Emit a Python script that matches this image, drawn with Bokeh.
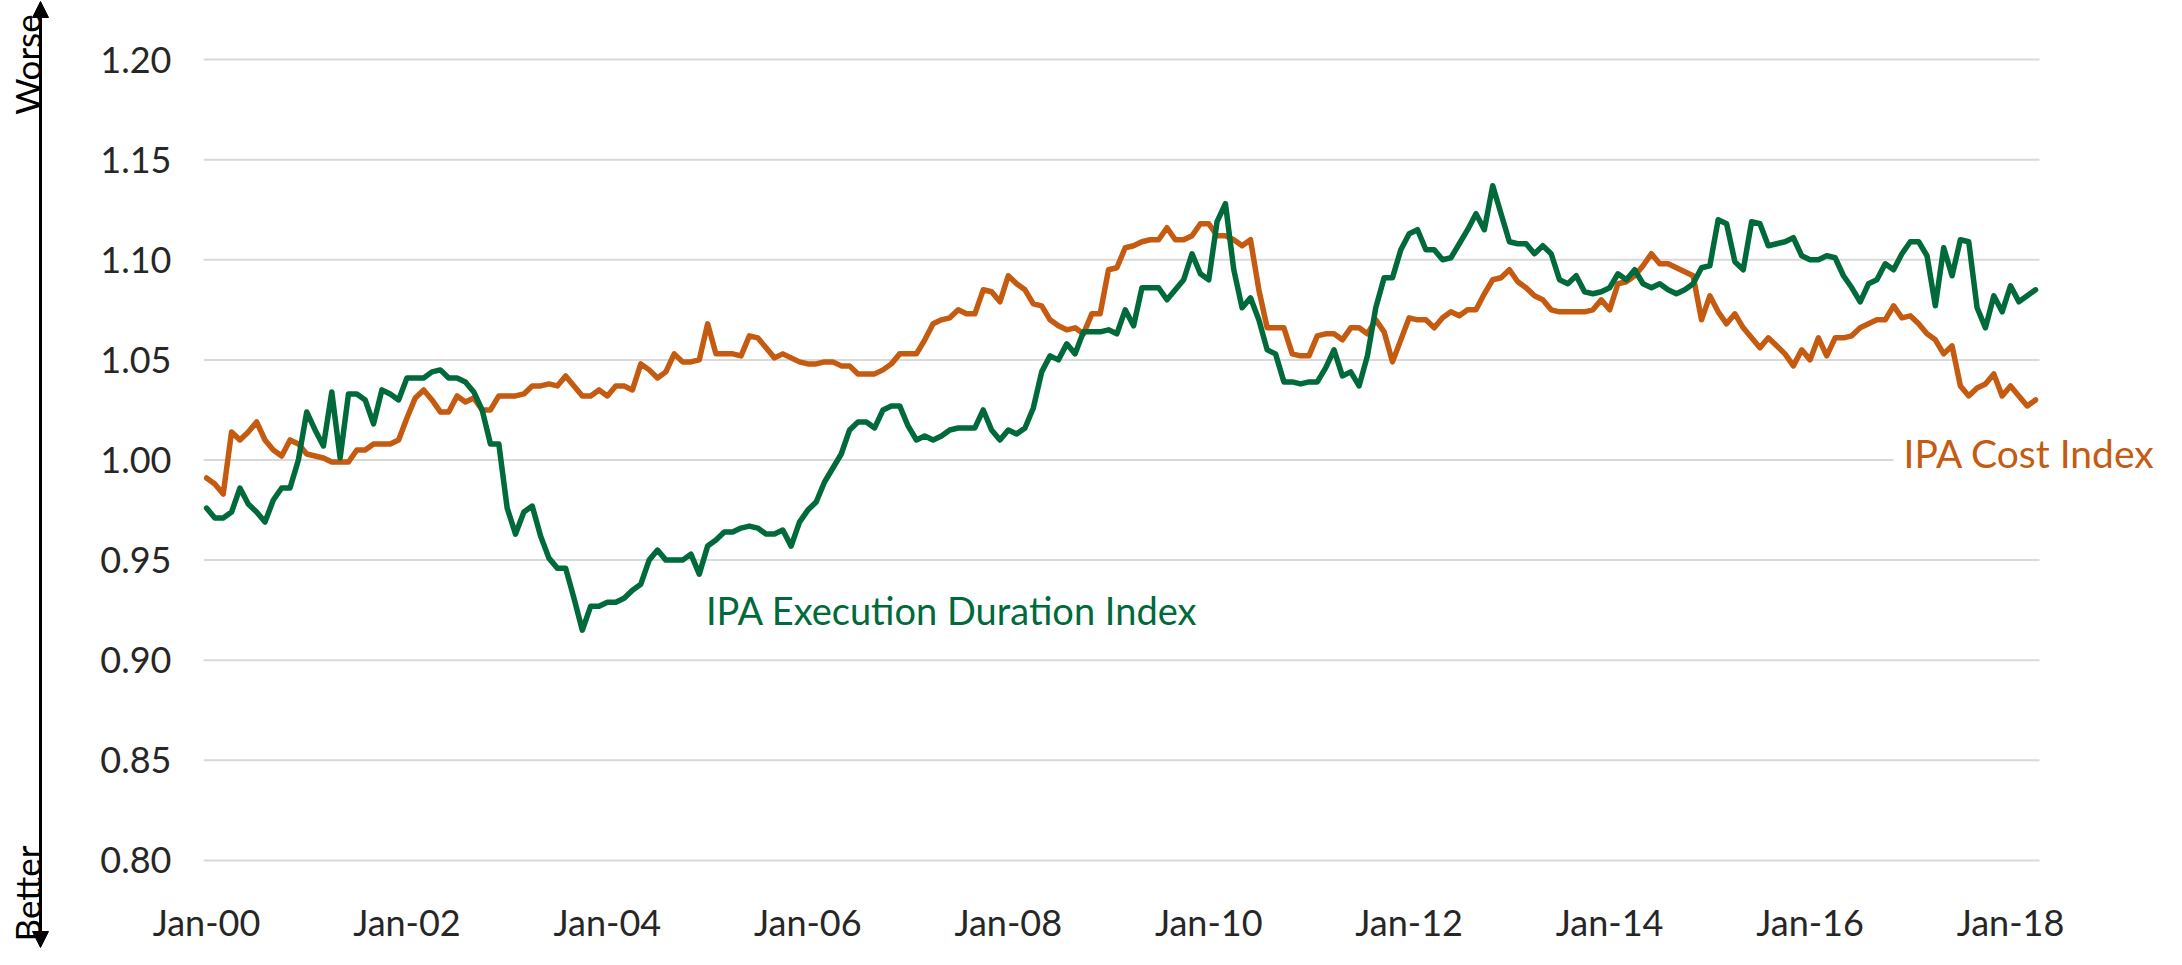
import math
from bokeh.plotting import figure
from bokeh.layouts import row, column
from bokeh.models import (Range1d, FixedTicker, PrintfTickFormatter, Label,
                          Arrow, NormalHead, ColumnDataSource)
from bokeh.embed import file_html
from bokeh.resources import INLINE

# ---- data (monthly, Jan-2000 .. Apr-2018) ----
duration_index = [
    0.976, 0.971, 0.971, 0.974, 0.986, 0.978, 0.974, 0.969, 0.980, 0.986, 0.986, 1.000,  # 2000
    1.024, 1.015, 1.007, 1.034, 1.001, 1.033, 1.033, 1.030, 1.018, 1.035, 1.033, 1.030,  # 2001
    1.041, 1.041, 1.041, 1.044, 1.045, 1.041, 1.041, 1.039, 1.034, 1.025, 1.008, 1.008,  # 2002
    0.976, 0.963, 0.974, 0.977, 0.962, 0.951, 0.946, 0.946, 0.931, 0.915, 0.927, 0.927,  # 2003
    0.929, 0.929, 0.931, 0.935, 0.938, 0.950, 0.955, 0.950, 0.950, 0.950, 0.953, 0.943,  # 2004
    0.957, 0.960, 0.964, 0.964, 0.966, 0.967, 0.966, 0.963, 0.963, 0.965, 0.957, 0.969,  # 2005
    0.975, 0.979, 0.989, 0.996, 1.003, 1.015, 1.019, 1.019, 1.016, 1.025, 1.027, 1.027,  # 2006
    1.017, 1.010, 1.012, 1.010, 1.012, 1.015, 1.016, 1.016, 1.016, 1.025, 1.015, 1.010,  # 2007
    1.015, 1.013, 1.016, 1.026, 1.044, 1.052, 1.050, 1.058, 1.053, 1.064, 1.064, 1.064,  # 2008
    1.065, 1.063, 1.075, 1.067, 1.086, 1.086, 1.086, 1.080, 1.085, 1.090, 1.103, 1.093,  # 2009
    1.090, 1.119, 1.128, 1.095, 1.076, 1.081, 1.070, 1.055, 1.053, 1.039, 1.039, 1.038,  # 2010
    1.039, 1.039, 1.046, 1.055, 1.042, 1.044, 1.037, 1.052, 1.076, 1.091, 1.091, 1.105,  # 2011
    1.113, 1.115, 1.105, 1.105, 1.100, 1.101, 1.108, 1.115, 1.123, 1.115, 1.137, 1.123,  # 2012
    1.109, 1.108, 1.108, 1.103, 1.107, 1.103, 1.090, 1.088, 1.092, 1.084, 1.083, 1.084,  # 2013
    1.086, 1.093, 1.090, 1.095, 1.088, 1.086, 1.088, 1.085, 1.083, 1.085, 1.088, 1.096,  # 2014
    1.097, 1.120, 1.118, 1.099, 1.095, 1.119, 1.118, 1.107, 1.108, 1.109, 1.111, 1.102,  # 2015
    1.100, 1.100, 1.102, 1.101, 1.092, 1.086, 1.079, 1.088, 1.090, 1.098, 1.095, 1.103,  # 2016
    1.109, 1.109, 1.102, 1.077, 1.106, 1.092, 1.110, 1.109, 1.076, 1.066, 1.082, 1.074,  # 2017
    1.087, 1.079, 1.082, 1.085,                                                          # 2018
]

cost_index = [
    0.991, 0.988, 0.983, 1.014, 1.010, 1.014, 1.019, 1.010, 1.005, 1.002, 1.010, 1.008,  # 2000
    1.003, 1.002, 1.001, 0.999, 0.999, 0.999, 1.005, 1.005, 1.008, 1.008, 1.008, 1.010,  # 2001
    1.021, 1.031, 1.035, 1.030, 1.024, 1.024, 1.032, 1.029, 1.031, 1.025, 1.025, 1.032,  # 2002
    1.032, 1.032, 1.033, 1.037, 1.037, 1.038, 1.037, 1.042, 1.037, 1.032, 1.032, 1.035,  # 2003
    1.032, 1.037, 1.037, 1.035, 1.048, 1.045, 1.041, 1.044, 1.053, 1.049, 1.049, 1.050,  # 2004
    1.068, 1.053, 1.053, 1.053, 1.052, 1.062, 1.061, 1.056, 1.051, 1.053, 1.051, 1.049,  # 2005
    1.048, 1.048, 1.049, 1.049, 1.047, 1.047, 1.043, 1.043, 1.043, 1.045, 1.048, 1.053,  # 2006
    1.053, 1.053, 1.060, 1.068, 1.070, 1.071, 1.075, 1.073, 1.073, 1.085, 1.084, 1.079,  # 2007
    1.092, 1.088, 1.085, 1.078, 1.077, 1.070, 1.067, 1.065, 1.066, 1.063, 1.073, 1.073,  # 2008
    1.095, 1.096, 1.106, 1.107, 1.109, 1.110, 1.110, 1.116, 1.110, 1.110, 1.112, 1.118,  # 2009
    1.118, 1.112, 1.112, 1.110, 1.107, 1.110, 1.085, 1.066, 1.066, 1.066, 1.053, 1.052,  # 2010
    1.052, 1.062, 1.063, 1.063, 1.060, 1.066, 1.066, 1.063, 1.070, 1.064, 1.049, 1.060,  # 2011
    1.071, 1.070, 1.070, 1.066, 1.071, 1.074, 1.072, 1.075, 1.075, 1.083, 1.090, 1.091,  # 2012
    1.095, 1.089, 1.086, 1.082, 1.080, 1.075, 1.074, 1.074, 1.074, 1.074, 1.075, 1.080,  # 2013
    1.075, 1.088, 1.089, 1.092, 1.097, 1.103, 1.098, 1.098, 1.096, 1.094, 1.092, 1.070,  # 2014
    1.082, 1.074, 1.068, 1.073, 1.066, 1.061, 1.056, 1.061, 1.057, 1.053, 1.047, 1.055,  # 2015
    1.050, 1.061, 1.052, 1.061, 1.061, 1.062, 1.066, 1.068, 1.070, 1.070, 1.077, 1.071,  # 2016
    1.072, 1.068, 1.063, 1.060, 1.053, 1.057, 1.037, 1.032, 1.036, 1.038, 1.043, 1.032,  # 2017
    1.037, 1.032, 1.027, 1.030,                                                          # 2018
]

month_index = list(range(len(duration_index)))

x_tick_positions = [0, 24, 48, 72, 96, 120, 144, 168, 192, 216]
x_tick_labels = ["Jan-00", "Jan-02", "Jan-04", "Jan-06", "Jan-08",
                 "Jan-10", "Jan-12", "Jan-14", "Jan-16", "Jan-18"]
y_ticks = [0.80, 0.85, 0.90, 0.95, 1.00, 1.05, 1.10, 1.15, 1.20]

GREEN = "#006a3b"
ORANGE = "#c55a11"
FONT = "Lato"
GRID = "#d9d9d9"

X_START, X_GRID_END, X_END = -0.36, 219.47, 233.48
EPS = 0.001

# ---------------- left strip: Worse / Better arrow ----------------
LW, H = 88, 949
left = figure(width=LW, height=H, output_backend="svg", toolbar_location=None,
              x_range=Range1d(0, LW), y_range=Range1d(0, H),
              x_axis_type=None, y_axis_type=None, min_border=0,
              min_border_top=0, min_border_bottom=0,
              min_border_left=0, min_border_right=0, title=None)
left.outline_line_color = None
left.grid.visible = False
left.add_layout(Arrow(start=NormalHead(size=16, fill_color="black", line_color="black"),
                      end=NormalHead(size=16, fill_color="black", line_color="black"),
                      x_start=40, y_start=2, x_end=40, y_end=948,
                      line_width=3, line_color="black"))
left.add_layout(Label(x=26, y=885, text="Worse", angle=math.pi / 2,
                      text_font=FONT, text_font_size="35px", text_color="black",
                      text_align="center", text_baseline="middle"))
left.add_layout(Label(x=26, y=56, text="Better", angle=math.pi / 2,
                      text_font=FONT, text_font_size="35px", text_color="black",
                      text_align="center", text_baseline="middle"))

# ---------------- main chart ----------------
source = ColumnDataSource(dict(m=month_index, dur=duration_index, cost=cost_index))
grid_src = ColumnDataSource(dict(x0=[X_START] * len(y_ticks), x1=[X_GRID_END] * len(y_ticks),
                                 y=y_ticks))

p = figure(width=2166 - LW, height=H, output_backend="svg", toolbar_location=None,
           x_range=Range1d(X_START, X_END), y_range=Range1d(0.80 - EPS, 1.20 + EPS),
           min_border_left=115, min_border_right=10,
           min_border_top=57, min_border_bottom=87, title=None)
p.outline_line_color = None
p.background_fill_color = "white"
p.border_fill_color = "white"
p.xgrid.grid_line_color = None
p.ygrid.grid_line_color = None

# horizontal gridlines (ending at the plot-area edge, as in the original)
p.segment(x0="x0", y0="y", x1="x1", y1="y", source=grid_src,
          line_color=GRID, line_width=2)

# axes
p.yaxis.ticker = FixedTicker(ticks=y_ticks)
p.yaxis.formatter = PrintfTickFormatter(format="%.2f")
p.xaxis.ticker = FixedTicker(ticks=x_tick_positions)
p.xaxis.major_label_overrides = dict(zip(x_tick_positions, x_tick_labels))
for ax in (p.xaxis, p.yaxis):
    ax.axis_line_color = None
    ax.major_tick_line_color = None
    ax.minor_tick_line_color = None
    ax.major_tick_out = 0
    ax.major_tick_in = 0
    ax.major_label_text_font = FONT
    ax.major_label_text_font_size = "36px"
    ax.major_label_text_color = "#262626"
p.yaxis.major_label_standoff = 32
p.xaxis.major_label_standoff = 37

# series
p.line("m", "cost", source=source, line_width=5.5, line_color=ORANGE,
       line_join="round", line_cap="round")
p.line("m", "dur", source=source, line_width=5.5, line_color=GREEN,
       line_join="round", line_cap="round")

# series labels
p.add_layout(Label(x=59.8, y=0.925, text="IPA Execution Duration Index",
                   text_font=FONT, text_font_size="38px", text_color=GREEN,
                   text_align="left", text_baseline="middle"))
p.add_layout(Label(x=202, y=1.0035, text="IPA Cost Index",
                   text_font=FONT, text_font_size="39px", text_color=ORANGE,
                   text_align="left", text_baseline="middle",
                   background_fill_color="white", padding=10))

layout = row(column(left), p)
open("out.html", "w").write(file_html(layout, INLINE))
